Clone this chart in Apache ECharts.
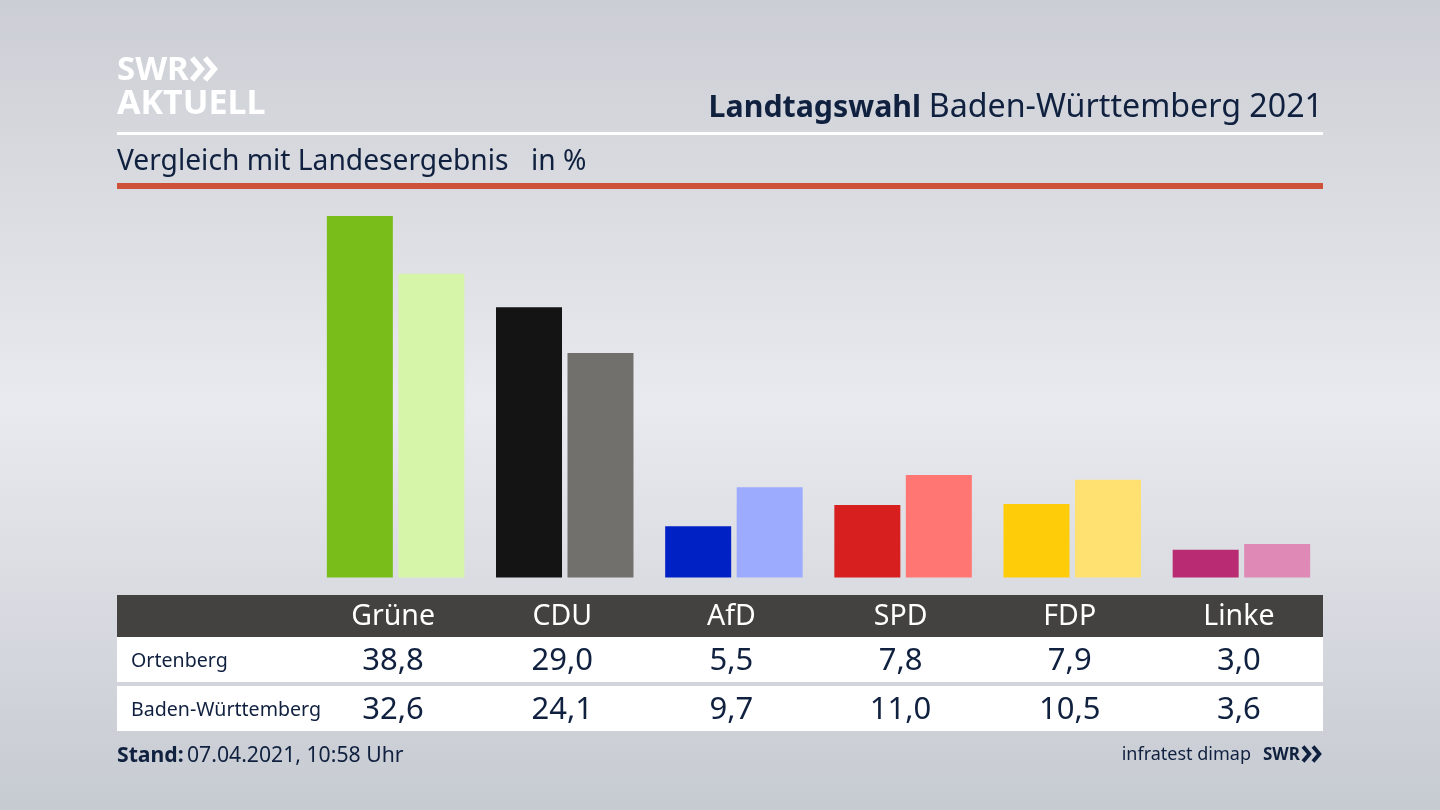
<!DOCTYPE html>
<html>
<head>
<meta charset="utf-8">
<title>Landtagswahl Baden-Württemberg 2021</title>
<script src="https://cdn.jsdelivr.net/npm/echarts@6/dist/echarts.min.js"></script>
<style>
    html, body, #main { width: 100%; height: 100%; margin: 0; padding: 0; }
</style>
</head>
<body>
<div id="main"></div>
<script type="text/javascript">
var parties = ['Grüne', 'CDU', 'AfD', 'SPD', 'FDP', 'Linke'];
var rowNames = ['Ortenberg', 'Baden-Württemberg'];
var ortenberg = [38.8, 29.0, 5.5, 7.8, 7.9, 3.0];
var land = [32.6, 24.1, 9.7, 11.0, 10.5, 3.6];
var colorsDark = ['#78bd1a', '#141414', '#0021c4', '#d81f1f', '#ffcc0a', '#b92c74'];
var colorsLight = ['#d6f5a8', '#72706d', '#9dabff', '#ff7672', '#ffe172', '#df8ab6'];

var FONT = '"Noto Sans", sans-serif';
var INK = '#10203f';

function fmt(v) { return v.toFixed(1).replace('.', ','); }

var myChart = echarts.init(document.getElementById('main'));

function rect(x, y, w, h, fill) {
    return { type: 'rect', silent: true, shape: { x: x, y: y, width: w, height: h }, style: { fill: fill } };
}
function text(x, y, str, size, fill, align, weight) {
    return {
        type: 'text', silent: true, x: x, y: y,
        style: {
            text: str, fill: fill, fontFamily: FONT, fontSize: size,
            fontWeight: weight || 'normal', align: align || 'left', verticalAlign: 'middle'
        }
    };
}
function chevrons(x, y, s, step, w, color) {
    // the two arrows of the SWR logo
    var out = [];
    [0, step].forEach(function (dx) {
        out.push({
            type: 'polyline', silent: true,
            shape: { points: [[x + dx, y - s], [x + dx + s * 0.85, y], [x + dx, y + s]] },
            style: { stroke: color, lineWidth: w, fill: 'none' }
        });
    });
    return out;
}

var option = {
    animation: false,
    backgroundColor: {
        type: 'linear', x: 0, y: 0, x2: 0, y2: 1,
        colorStops: [
            { offset: 0, color: '#cbced4' },
            { offset: 0.5, color: '#e9eaef' },
            { offset: 1, color: '#c6cad1' }
        ]
    },
    grid: { left: 311, top: 204.8, width: 1015, height: 372.8 },
    xAxis: {
        type: 'category', data: parties,
        axisLine: { show: false }, axisTick: { show: false }, axisLabel: { show: false }
    },
    yAxis: { type: 'value', min: 0, max: 40, show: false, splitLine: { show: false } },
    series: [
        {
            type: 'bar', name: rowNames[0], barWidth: 66, barGap: '8.3%',
            data: ortenberg.map(function (v, i) { return { value: v, itemStyle: { color: colorsDark[i] } }; })
        },
        {
            type: 'bar', name: rowNames[1], barWidth: 66,
            data: land.map(function (v, i) { return { value: v, itemStyle: { color: colorsLight[i] } }; })
        }
    ]
};
myChart.setOption(option);

// header, table and footer sit around the plot, columns follow the category axis
var g = [
    rect(117, 132, 1206, 3, '#ffffff'),
    rect(117, 183, 1206, 6, '#cc5138'),
    rect(117, 595, 1206, 42, '#434240'),
    rect(117, 637, 1206, 45, '#ffffff'),
    rect(117, 686, 1206, 45, '#ffffff'),
    text(117, 71, 'SWR', 33, '#ffffff', 'left', 'bold'),
    text(117, 104, 'AKTUELL', 34, '#ffffff', 'left', 'bold'),
    text(921, 108, 'Landtagswahl', 30.3, INK, 'right', 'bold'),
    text(1323, 108, 'Baden-Württemberg 2021', 32.2, INK, 'right'),
    text(117, 162, 'Vergleich mit Landesergebnis', 28.2, INK),
    text(531, 162, 'in %', 28.2, INK),
    text(131, 661, rowNames[0], 19.6, INK),
    text(131, 710, rowNames[1], 19.6, INK),
    text(117, 756, 'Stand:', 21.2, INK, 'left', 'bold'),
    text(187, 756, '07.04.2021, 10:58 Uhr', 21.2, INK),
    text(1251, 755, 'infratest dimap', 18, INK, 'right'),
    text(1263, 755, 'SWR', 17, INK, 'left', 'bold')
].concat(chevrons(192, 69, 11, 13, 5.5, '#ffffff'), chevrons(1303, 754, 7.5, 10, 3.8, INK));

parties.forEach(function (p, i) {
    var cx = myChart.convertToPixel({ xAxisIndex: 0 }, p) - 2.5;
    g.push(text(cx, 617, p, 28.5, '#ffffff', 'center'));
    g.push(text(cx, 661, fmt(ortenberg[i]), 31, INK, 'center'));
    g.push(text(cx, 710, fmt(land[i]), 31, INK, 'center'));
});

myChart.setOption({ graphic: { elements: g } });

window.onresize = function () { myChart.resize(); };
</script>
</body>
</html>
